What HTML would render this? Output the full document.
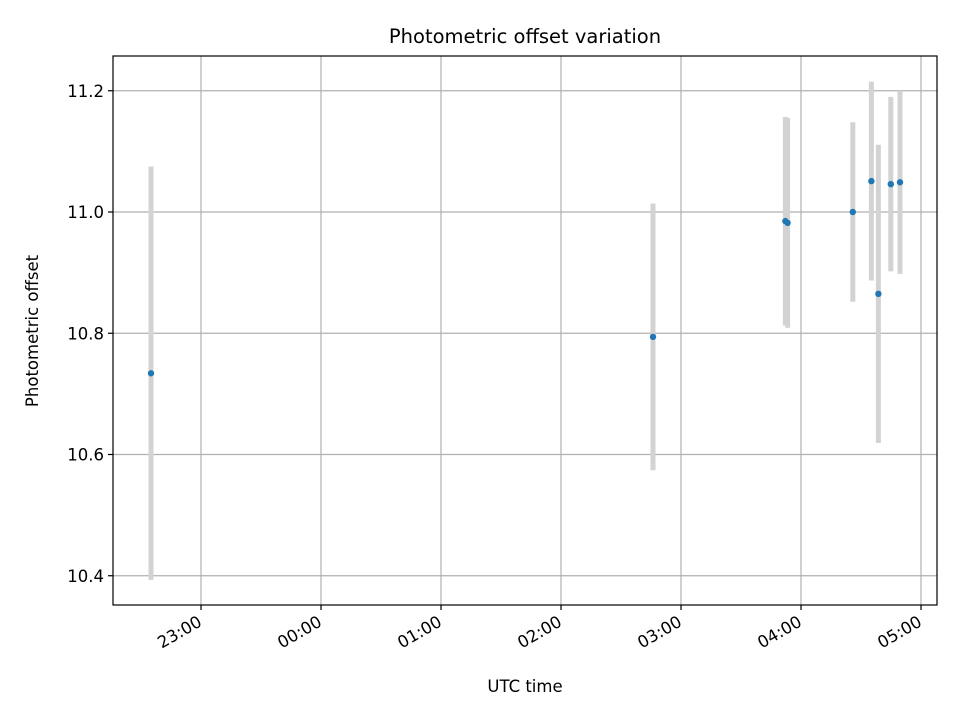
<!DOCTYPE html>
<html><head><meta charset="utf-8"><style>
body{margin:0;background:#fff;}
svg text{font-family:"DejaVu Sans","Liberation Sans",sans-serif;fill:#000;}
</style></head><body>
<svg id="chart" width="960" height="720" xmlns="http://www.w3.org/2000/svg">
<rect width="960" height="720" fill="#fff"/>
<g id="grid"></g><g id="bars"></g><g id="pts"></g><g id="axes"></g>
</svg>
<script>
const times=["22:35:00","02:46:00","03:52:12","03:53:18","04:25:54","04:35:12","04:38:42","04:44:54","04:49:30"];
const offsets=[10.734,10.794,10.985,10.982,11.0,11.051,10.865,11.046,11.049];
const errors=[0.341,0.220,0.172,0.173,0.148,0.164,0.246,0.144,0.151];
const yTicks=[10.4,10.6,10.8,11.0,11.2];
const xTickLabels=["23:00","00:00","01:00","02:00","03:00","04:00","05:00"];
const L=113,R=937,T=56,B=605;
const NS="http://www.w3.org/2000/svg";
function mins(s){const p=s.split(":").map(Number);let h=p[0];if(h<12)h+=24;return h*60+p[1]+(p[2]||0)/60;}
function X(m){return 201+(m-23*60)*2;}
function Y(v){return 212-(v-11.0)*606.25;}
function el(tag,attrs,parent,txt){const e=document.createElementNS(NS,tag);for(const k in attrs)e.setAttribute(k,attrs[k]);if(txt!==undefined)e.textContent=txt;document.getElementById(parent).appendChild(e);return e;}
yTicks.forEach(v=>{const y=Y(v);
 let g=el('line',{x1:L,x2:R,y1:y,y2:y,stroke:'#b0b0b0','stroke-width':1.2},'grid');
 
 
 let t=el('line',{x1:L-5,x2:L,y1:y,y2:y,stroke:'#000','stroke-width':1.2},'axes');
 
 
 let tx=el('text',{x:L-9,y:y+6,'text-anchor':'end','font-size':16.5},'axes',v.toFixed(1));
 
 
});
xTickLabels.forEach(s=>{const x=X(mins(s));
 let g=el('line',{x1:x,x2:x,y1:T,y2:B,stroke:'#b0b0b0','stroke-width':1.2},'grid');
 
 
 let t=el('line',{x1:x,x2:x,y1:B,y2:B+5,stroke:'#000','stroke-width':1.2},'axes');
 
 
 let tx=el('text',{x:x+2,y:B+20,'text-anchor':'end','font-size':16.5,transform:`rotate(-30 ${x+2} ${B+20})`},'axes',s);
 
 
});
times.forEach((s,i)=>{const x=X(mins(s));
 let b=el('line',{x1:x,x2:x,y1:Y(offsets[i]+errors[i]),y2:Y(offsets[i]-errors[i]),stroke:'#d3d3d3','stroke-width':5},'bars');
 
 
 let c=el('circle',{cx:x,cy:Y(offsets[i]),r:3.2,fill:'#1f77b4'},'pts');
 
 
});
let fr=el('rect',{x:L,y:T,width:R-L,height:B-T,fill:'none',stroke:'#000','stroke-width':1.2},'axes');


let ti=el('text',{x:(L+R)/2,y:43,'text-anchor':'middle','font-size':19.5},'axes','Photometric offset variation');


let xl=el('text',{x:(L+R)/2,y:692,'text-anchor':'middle','font-size':16.5},'axes','UTC time');


let yl=el('text',{x:38,y:331,'text-anchor':'middle','font-size':16.5,transform:'rotate(-90 38 331)'},'axes','Photometric offset');


</script>
</body></html>
